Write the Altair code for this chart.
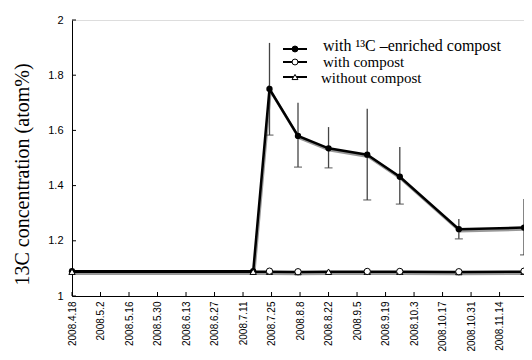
import altair as alt
import pandas as pd

# ---- data ----
dates = ["2008-04-18", "2008-07-16", "2008-07-24", "2008-08-07", "2008-08-22",
         "2008-09-10", "2008-09-26", "2008-10-25", "2008-11-26"]
enriched = [1.09, 1.09, 1.75, 1.58, 1.535, 1.512, 1.432, 1.242, 1.248]
with_compost = [None, None, 1.09, 1.088, None, 1.089, 1.089, 1.088, 1.09]
without_compost = [1.088, 1.088, 1.088, 1.087, 1.088, 1.088, 1.088, 1.087, 1.088]

err_dates = ["2008-07-24", "2008-08-07", "2008-08-22", "2008-09-10",
             "2008-09-26", "2008-10-25", "2008-11-26"]
err_low = [1.583, 1.467, 1.464, 1.348, 1.333, 1.207, 1.149]
err_high = [1.917, 1.700, 1.612, 1.678, 1.540, 1.279, 1.351]

tick_dates = ["2008-04-18", "2008-05-02", "2008-05-16", "2008-05-30", "2008-06-13",
              "2008-06-27", "2008-07-11", "2008-07-25", "2008-08-08", "2008-08-22",
              "2008-09-05", "2008-09-19", "2008-10-03", "2008-10-17", "2008-10-31",
              "2008-11-14"]
y_ticks = [1, 1.2, 1.4, 1.6, 1.8, 2]

legend_labels = ["with \u00b9\u00b3C \u2013enriched compost", "with compost", "without compost"]

W, H = 452, 276


def dt(s):
    y, m, d = (int(v) for v in s.split("-"))
    return alt.DateTime(year=y, month=m, date=d, utc=True)


df = pd.DataFrame({"date": dates, "enriched": enriched,
                   "with": with_compost, "without": without_compost})
err = pd.DataFrame({"date": err_dates, "low": err_low, "high": err_high})
ticks_x = pd.DataFrame({"date": tick_dates})
ticks_y = pd.DataFrame({"v": y_ticks})
one = pd.DataFrame({"k": [0]})

xscale = alt.Scale(type="utc", domain=[dt("2008-04-18"), dt("2008-11-26")])
yscale = alt.Scale(domain=[1, 2])

x_axis = alt.Axis(values=[dt(s) for s in tick_dates],
                  labelExpr="utcFormat(datum.value, '%Y') + '.' + (utcmonth(datum.value) + 1) + '.' + utcdate(datum.value)",
                  labelAngle=-90, ticks=False,
                  labelPadding=5, grid=False, domainColor="black",
                  labelFont="Liberation Sans", labelFontSize=10,
                  labelColor="black", labelOverlap=False, title=None)
y_axis = alt.Axis(values=y_ticks, format="~g", ticks=False, labelPadding=9,
                  grid=False, domainColor="black", labelFont="Liberation Sans",
                  labelFontSize=11, labelColor="black",
                  title="13C concentration (atom%)", titleFont="Liberation Serif",
                  titleFontSize=20, titleFontWeight="normal", titleColor="black",
                  titleX=-50, titleY=154, titleAngle=-90, titleAlign="center",
                  titleBaseline="middle")

Xn = alt.X("date:T", scale=xscale, axis=x_axis, title=None)


def Yn(field):
    return alt.Y(f"{field}:Q", scale=yscale, axis=y_axis, title="13C concentration (atom%)")


xt = alt.Chart(ticks_x).mark_rule(color="black", strokeWidth=1).encode(
    x=Xn, y=alt.value(H), y2=alt.value(H - 4))
yt = alt.Chart(ticks_y).mark_rule(color="black", strokeWidth=1).encode(
    y=Yn("v"), x=alt.value(0), x2=alt.value(4))

shadow_e = alt.Chart(df).mark_line(color="#999999", strokeWidth=2.5, xOffset=1, yOffset=2).encode(
    x=Xn, y=Yn("enriched"))
shadow_b = alt.Chart(df).mark_line(color="#999999", strokeWidth=2.5, xOffset=1, yOffset=2).encode(
    x=Xn, y=Yn("without"))

bars = alt.Chart(err).mark_rule(color="#444444", strokeWidth=1.3).encode(
    x=Xn, y=Yn("low"), y2="high")
caps = alt.Chart(err).mark_tick(color="#444444", thickness=1.3, size=8, orient="horizontal").encode(
    x=Xn, y=Yn("low"))

line_e = alt.Chart(df).mark_line(color="black", strokeWidth=2.5).encode(x=Xn, y=Yn("enriched"))
pts_e = alt.Chart(df).mark_point(shape="circle", filled=True, color="black", size=40, opacity=1).encode(
    x=Xn, y=Yn("enriched"))

line_b = alt.Chart(df).mark_line(color="black", strokeWidth=2.5).encode(x=Xn, y=Yn("without"))
pts_t = alt.Chart(df).mark_point(shape="triangle-up", filled=True, fill="white", stroke="black",
                                 strokeWidth=1, size=40, opacity=1).encode(x=Xn, y=Yn("without"))
pts_c = alt.Chart(df).transform_filter("datum.with != null").mark_point(
    shape="circle", filled=True, fill="white", stroke="black", strokeWidth=1, size=40,
    opacity=1).encode(x=Xn, y=Yn("with"))

# ---- manual legend ----
leg_y = [29, 42, 57]
leg_text_y = [25.5, 42, 58]
leg_font = [16, 15, 15]
leg_text_x = [251, 251, 249]
leg_shapes = [("circle", "black"), ("circle", "white"), ("triangle-up", "white")]
leg_layers = []
for i, lab in enumerate(legend_labels):
    leg_layers.append(alt.Chart(one).mark_rule(color="black", strokeWidth=2).encode(
        x=alt.value(211), x2=alt.value(235), y=alt.value(leg_y[i])))
    shp, fill = leg_shapes[i]
    leg_layers.append(alt.Chart(one).mark_point(shape=shp, filled=True, fill=fill, stroke="black",
                                                strokeWidth=1, size=35, opacity=1).encode(
        x=alt.value(223), y=alt.value(leg_y[i])))
    leg_layers.append(alt.Chart(one).mark_text(text=lab, align="left", baseline="middle",
                                               font="Liberation Serif", fontSize=leg_font[i],
                                               color="black").encode(
        x=alt.value(leg_text_x[i]), y=alt.value(leg_text_y[i])))

chart = alt.layer(xt, yt, shadow_e, shadow_b, bars, caps, line_e, pts_e,
                  line_b, pts_t, pts_c, *leg_layers).properties(
    width=W, height=H, autosize=alt.AutoSizeParams(type="none"),
    padding={"left": 64, "top": 12, "right": 0, "bottom": 56},
).configure_view(stroke=None).configure(background="white")

chart.save("out.html", embed_options={"renderer": "svg", "actions": False})
